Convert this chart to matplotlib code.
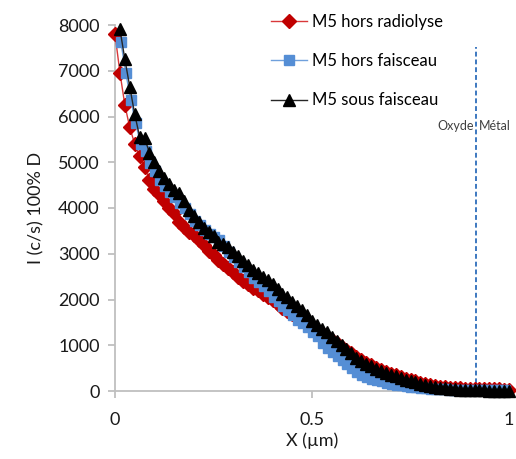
import matplotlib
matplotlib.use("Agg")
import matplotlib.pyplot as plt
from matplotlib.lines import Line2D

plt.rcParams['font.family'] = ['Lato', 'DejaVu Sans']

# ---- data ----
x_red = [0.0, 0.0125, 0.025, 0.0375, 0.05, 0.0625, 0.075, 0.0875, 0.1, 0.1125,
         0.125, 0.1375, 0.15, 0.1625, 0.175, 0.1875, 0.2, 0.2125, 0.225, 0.2375,
         0.25, 0.2625, 0.275, 0.2875, 0.3, 0.3125, 0.325, 0.3375, 0.35, 0.3625,
         0.375, 0.3875, 0.4, 0.4125, 0.425, 0.4375, 0.45, 0.4625, 0.475, 0.4875,
         0.5, 0.5125, 0.525, 0.5375, 0.55, 0.5625, 0.575, 0.5875, 0.6, 0.6125,
         0.625, 0.6375, 0.65, 0.6625, 0.675, 0.6875, 0.7, 0.7125, 0.725, 0.7375,
         0.75, 0.7625, 0.775, 0.7875, 0.8, 0.8125, 0.825, 0.8375, 0.85, 0.8625,
         0.875, 0.8875, 0.9, 0.9125, 0.925, 0.9375, 0.95, 0.9625, 0.975, 0.9875, 1.0]
y_red = [7800, 6960, 6250, 5760, 5400, 5130, 4900, 4620, 4420, 4300,
         4150, 4000, 3880, 3700, 3580, 3480, 3400, 3300, 3200, 3060,
         2980, 2870, 2780, 2680, 2600, 2500, 2400, 2330, 2260, 2200,
         2120, 2050, 1980, 1900, 1820, 1750, 1680, 1620, 1550, 1480,
         1420, 1340, 1260, 1190, 1120, 1040, 960, 890, 820, 740,
         670, 610, 560, 510, 460, 420, 380, 340, 300, 270,
         240, 210, 180, 150, 130, 110, 95, 80, 70, 60,
         55, 50, 45, 45, 40, 40, 38, 35, 35, 32, 30]

x_blue = [0.015, 0.0275, 0.04, 0.0525, 0.065, 0.0775, 0.09, 0.1025, 0.115, 0.1275,
          0.14, 0.1525, 0.165, 0.1775, 0.19, 0.2025, 0.215, 0.2275, 0.24, 0.2525,
          0.265, 0.2775, 0.29, 0.3025, 0.315, 0.3275, 0.34, 0.3525, 0.365, 0.3775,
          0.39, 0.4025, 0.415, 0.4275, 0.44, 0.4525, 0.465, 0.4775, 0.49, 0.5025,
          0.515, 0.5275, 0.54, 0.5525, 0.565, 0.5775, 0.59, 0.6025, 0.615, 0.6275,
          0.64, 0.6525, 0.665, 0.6775, 0.69, 0.7025, 0.715, 0.7275, 0.74, 0.7525,
          0.765, 0.7775, 0.79, 0.8025, 0.815, 0.8275, 0.84, 0.8525, 0.865, 0.8775,
          0.89, 0.9025, 0.915, 0.9275, 0.94, 0.9525, 0.965, 0.9775, 0.99]
y_blue = [7620, 6950, 6360, 5850, 5400, 5250, 4980, 4800, 4620, 4480,
          4360, 4230, 4120, 4000, 3860, 3720, 3620, 3520, 3430, 3360,
          3300, 3180, 3040, 2920, 2820, 2700, 2600, 2480, 2380, 2300,
          2180, 2060, 1960, 1860, 1760, 1660, 1560, 1480, 1390, 1300,
          1200, 1050, 950, 860, 770, 680, 590, 500, 420, 360,
          310, 270, 240, 210, 180, 160, 140, 125, 110, 95,
          80, 70, 60, 50, 45, 40, 35, 32, 30, 28,
          26, 25, 25, 24, 24, 22, 22, 20, 20]

x_black = [0.0125, 0.025, 0.0375, 0.05, 0.0625, 0.075, 0.0875, 0.1, 0.1125, 0.125,
           0.1375, 0.15, 0.1625, 0.175, 0.1875, 0.2, 0.2125, 0.225, 0.2375, 0.25,
           0.2625, 0.275, 0.2875, 0.3, 0.3125, 0.325, 0.3375, 0.35, 0.3625, 0.375,
           0.3875, 0.4, 0.4125, 0.425, 0.4375, 0.45, 0.4625, 0.475, 0.4875, 0.5,
           0.5125, 0.525, 0.5375, 0.55, 0.5625, 0.575, 0.5875, 0.6, 0.6125, 0.625,
           0.6375, 0.65, 0.6625, 0.675, 0.6875, 0.7, 0.7125, 0.725, 0.7375, 0.75,
           0.7625, 0.775, 0.7875, 0.8, 0.8125, 0.825, 0.8375, 0.85, 0.8625, 0.875,
           0.8875, 0.9, 0.9125, 0.925, 0.9375, 0.95, 0.9625, 0.975, 0.9875, 1.0]
y_black = [7910, 7250, 6650, 6050, 5560, 5540, 5200, 5000, 4800, 4650,
           4520, 4400, 4320, 4150, 3960, 3820, 3700, 3560, 3480, 3380,
           3260, 3220, 3150, 3030, 2940, 2840, 2760, 2650, 2570, 2500,
           2420, 2330, 2220, 2130, 2050, 1950, 1850, 1760, 1660, 1540,
           1440, 1360, 1280, 1190, 1100, 1010, 920, 820, 730, 650,
           590, 540, 490, 440, 400, 360, 320, 280, 250, 220,
           190, 160, 130, 110, 90, 70, 55, 45, 35, 30,
           25, 20, 18, 15, 12, 10, 10, 8, 6, 5]

labels = ["M5 hors radiolyse", "M5 hors faisceau", "M5 sous faisceau"]
x_interface = 0.916
xticks = [0, 0.5, 1]
xtick_labels = ["0", "0.5", "1"]
yticks = list(range(0, 8001, 1000))

# ---- figure ----
fig = plt.figure(figsize=(5.16, 4.59), dpi=100)
ax = fig.add_axes([115/516, 1-391/459, 394/516, 366/459])

red, blue, black = "#c00000", "#558ed5", "#000000"
ms_d, ms_s, ms_t = 7.5, 6.5, 8.5
ax.plot(x_red, y_red, color="#d9383a", lw=1.0, marker="D", ms=ms_d,
        mfc=red, mec=red, zorder=3, clip_on=False)
ax.plot(x_blue, y_blue, color="#6fa0dc", lw=1.0, marker="s", ms=ms_s,
        mfc=blue, mec=blue, zorder=4, clip_on=False)
ax.plot(x_black, y_black, color="#262626", lw=1.0, marker="^", ms=ms_t,
        mfc=black, mec=black, zorder=5, clip_on=False)

ax.axvline(x_interface, ymin=0, ymax=(391-47)/366, color="#3c78c0",
           lw=1.4, ls=(0, (2.5, 1.5)), zorder=2)
ax.text(x_interface - 0.006, 5790, "Oxyde", ha="right", va="center",
        fontsize=9, color="#404040")
ax.text(x_interface + 0.008, 5790, "Métal", ha="left", va="center",
        fontsize=9, color="#404040")

ax.set_xlim(0, 1)
ax.set_ylim(0, 8000)
ax.set_xticks(xticks)
ax.set_xticklabels(xtick_labels)
ax.set_yticks(yticks)
for s in ["top", "right"]:
    ax.spines[s].set_visible(False)
for s in ["left", "bottom"]:
    ax.spines[s].set_color("#bfbfbf")
    ax.spines[s].set_linewidth(1.3)
ax.tick_params(axis="both", colors="#bfbfbf", labelcolor="#1a1a1a",
               labelsize=13, length=5, width=1.3, direction="out")
ax.tick_params(axis="x", pad=10)
ax.tick_params(axis="y", pad=6)

ax.set_xlabel("X (µm)", fontsize=13, color="#1a1a1a", labelpad=3)
ax.set_ylabel("I (c/s) 100% D", fontsize=13, color="#1a1a1a", labelpad=10)

handles = [
    Line2D([], [], color="#d9383a", lw=1.0, marker="D", ms=ms_d, mfc=red, mec=red),
    Line2D([], [], color="#6fa0dc", lw=1.0, marker="s", ms=ms_s, mfc=blue, mec=blue),
    Line2D([], [], color="#262626", lw=1.0, marker="^", ms=ms_t, mfc=black, mec=black),
]
fig.legend(handles, labels, loc="upper left", bbox_to_anchor=(264/516, 1-7/459),
           frameon=False, fontsize=12, handlelength=2.2, labelspacing=1.4,
           handletextpad=0.3, borderaxespad=0)

fig.savefig("out.png", dpi=100)
